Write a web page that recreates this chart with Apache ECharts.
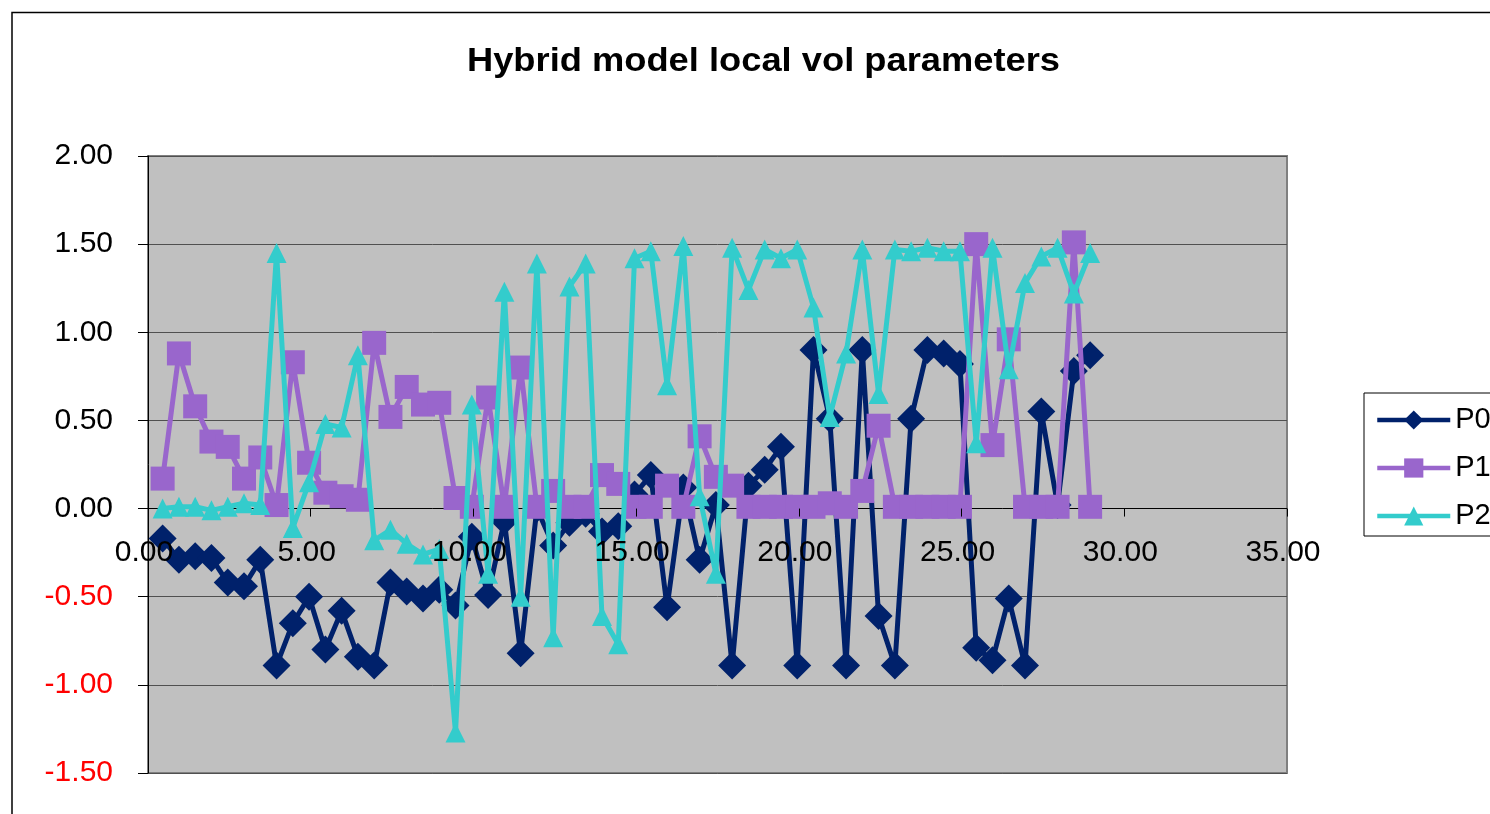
<!DOCTYPE html>
<html>
<head>
<meta charset="utf-8">
<script src="https://cdn.jsdelivr.net/npm/echarts@6/dist/echarts.min.js"></script>
<style>
  html, body { margin: 0; padding: 0; background: #ffffff; }
  #chart { width: 1490px; height: 814px; }
</style>
</head>
<body>
<div id="chart"></div>
<script>
// ---- data ----
const titleText = 'Hybrid model local vol parameters';
const seriesNames = ['P0', 'P1', 'P2'];
const xValues = [0.45, 0.95, 1.45, 1.95, 2.45, 2.95, 3.45, 3.95, 4.45, 4.95,
  5.45, 5.95, 6.45, 6.95, 7.45, 7.95, 8.45, 8.95, 9.45, 9.95,
  10.45, 10.95, 11.45, 11.95, 12.45, 12.95, 13.45, 13.95, 14.45, 14.95,
  15.45, 15.95, 16.45, 16.95, 17.45, 17.95, 18.45, 18.95, 19.45, 19.95,
  20.45, 20.95, 21.45, 21.95, 22.45, 22.95, 23.45, 23.95, 24.45, 24.95,
  25.45, 25.95, 26.45, 26.95, 27.45, 27.95, 28.45, 28.95];
const p0 = [-0.17, -0.29, -0.27, -0.28, -0.42, -0.44, -0.29, -0.89, -0.65, -0.50,
  -0.80, -0.58, -0.84, -0.89, -0.42, -0.47, -0.51, -0.46, -0.55, -0.16,
  -0.49, -0.07, -0.82, 0.00, -0.21, -0.08, -0.03, -0.13, -0.10, 0.08,
  0.19, -0.56, 0.12, -0.29, 0.02, -0.89, 0.13, 0.22, 0.35, -0.89,
  0.90, 0.51, -0.89, 0.90, -0.61, -0.89, 0.51, 0.90, 0.88, 0.82,
  -0.79, -0.86, -0.51, -0.89, 0.55, 0.02, 0.78, 0.87];
const p1 = [0.17, 0.88, 0.58, 0.38, 0.35, 0.17, 0.29, 0.02, 0.83, 0.26,
  0.09, 0.07, 0.05, 0.94, 0.52, 0.69, 0.59, 0.60, 0.06, 0.01,
  0.63, 0.01, 0.80, 0.01, 0.10, 0.01, 0.01, 0.19, 0.14, 0.01,
  0.01, 0.13, 0.01, 0.41, 0.18, 0.13, 0.01, 0.01, 0.01, 0.01,
  0.01, 0.03, 0.01, 0.10, 0.47, 0.01, 0.01, 0.01, 0.01, 0.01,
  1.50, 0.36, 0.96, 0.01, 0.01, 0.01, 1.51, 0.01];
const p2 = [0.00, 0.01, 0.01, -0.01, 0.01, 0.03, 0.02, 1.45, -0.11, 0.15,
  0.48, 0.46, 0.87, -0.18, -0.12, -0.20, -0.26, -0.23, -1.27, 0.59,
  -0.37, 1.23, -0.50, 1.39, -0.73, 1.26, 1.39, -0.61, -0.77, 1.42,
  1.46, 0.70, 1.49, 0.07, -0.37, 1.48, 1.24, 1.47, 1.42, 1.47,
  1.14, 0.52, 0.88, 1.47, 0.65, 1.47, 1.46, 1.48, 1.46, 1.46,
  0.37, 1.48, 0.79, 1.28, 1.43, 1.48, 1.22, 1.45];
const xMin = 0, xMax = 35, xStep = 5;
const yMin = -1.5, yMax = 2, yStep = 0.5;

const FONT = "'Liberation Sans', Arial, sans-serif";
const colors = ['#00216B', '#9966CC', '#33CCCC'];
const symbols = ['diamond', 'rect', 'triangle'];
const symbolSizes = [28, 24, 20];
// grid line colours, one per y tick from -1.50 up to 2.00 (zero line darker)
const gridLineColors = ['#505050', '#505050', '#505050', '#000000', '#505050', '#505050', '#505050', '#505050'];

// plot-area geometry
const GRID = { left: 148, top: 156, width: 1139, height: 617 };
// the x axis crosses at y = 0: shift it up from the bottom of the plot area
const xAxisOffset = -GRID.height * (0 - yMin) / (yMax - yMin);

function pairs(ys) { return xValues.map((x, i) => [x, ys[i]]); }
const allSeries = [p0, p1, p2];

const chart = echarts.init(document.getElementById('chart'), null, { renderer: 'canvas' });
const option = {
  animation: false,
  backgroundColor: '#ffffff',
  graphic: [
    {
      type: 'rect', silent: true, z: 0,
      shape: { x: 12, y: 12.5, width: 1600, height: 1000 },
      style: { fill: 'none', stroke: '#000000', lineWidth: 1.5 }
    },
    {
      type: 'text', silent: true, z: 10,
      x: 763.5, y: 62, scaleX: 1.1,
      style: {
        text: titleText, fill: '#000000',
        font: "bold 33px 'Liberation Sans', Arial, sans-serif",
        textAlign: 'center', textVerticalAlign: 'middle'
      }
    }
  ],
  grid: {
    left: GRID.left, top: GRID.top, width: GRID.width, height: GRID.height,
    show: true, backgroundColor: '#C0C0C0',
    borderColor: '#808080', borderWidth: 2
  },
  legend: {
    data: seriesNames,
    orient: 'vertical',
    left: 1364, top: 393,
    padding: [12, 12, 5, 11],
    itemWidth: 73, itemHeight: 24, itemGap: 18,
    backgroundColor: '#ffffff',
    borderColor: '#000000', borderWidth: 1,
    lineStyle: { width: 4.5 },
    textStyle: { fontFamily: FONT, fontSize: 29, lineHeight: 30, color: '#000000' }
  },
  xAxis: {
    type: 'value', min: xMin, max: xMax, interval: xStep, position: 'bottom', z: 20,
    offset: xAxisOffset,
    axisLine: { show: true, onZero: false, lineStyle: { color: '#000000', width: 1, opacity: 0 } },
    axisTick: { show: true, length: 8, lineStyle: { color: '#000000', width: 1 } },
    axisLabel: {
      show: true, margin: 29, fontFamily: FONT, fontSize: 30, color: '#000000',
      padding: [0, 8, 0, 0],
      formatter: v => v.toFixed(2)
    },
    splitLine: { show: false }
  },
  yAxis: {
    type: 'value', min: yMin, max: yMax, interval: yStep, position: 'left',
    axisLine: { show: true, onZero: false, lineStyle: { color: '#000000', width: 1 } },
    axisTick: { show: true, length: 10, lineStyle: { color: '#000000', width: 1 } },
    axisLabel: {
      margin: 35, fontFamily: FONT, fontSize: 30,
      formatter: v => v.toFixed(2),
      color: v => (Number(v) < 0 ? '#FF0000' : '#000000')
    },
    splitLine: { show: true, lineStyle: { color: gridLineColors, width: 1 } }
  },
  series: seriesNames.map((name, i) => ({
    name: name,
    type: 'line',
    data: pairs(allSeries[i]),
    symbol: symbols[i],
    symbolSize: symbolSizes[i],
    showSymbol: true,
    showAllSymbol: true,
    color: colors[i],
    lineStyle: { color: colors[i], width: 5 },
    itemStyle: { color: colors[i], borderWidth: 0 },
    emphasis: { disabled: true },
    z: 2 + i
  }))
};
chart.setOption(option);
</script>
</body>
</html>
